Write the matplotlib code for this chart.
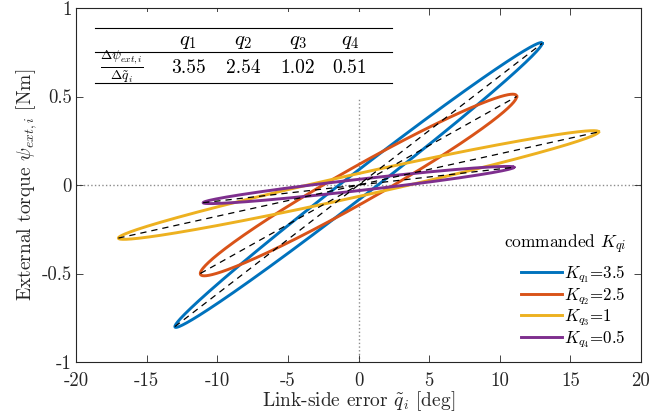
import numpy as np
import matplotlib
matplotlib.use('Agg')
import matplotlib.pyplot as plt
from matplotlib.patches import Rectangle

plt.rcParams['font.family'] = 'serif'
plt.rcParams['font.serif'] = ['cmr10']
plt.rcParams['mathtext.fontset'] = 'cm'
plt.rcParams['axes.unicode_minus'] = False
plt.rcParams['axes.formatter.use_mathtext'] = True

# loop data
kq_values = ['3.5', '2.5', '1', '0.5']
tip_x = [13.0, 11.2, 17.0, 11.0]      # deg, loop tip
tip_y = [0.80, 0.50, 0.30, 0.10]      # Nm, loop tip
opening = [0.085, 0.115, 0.065, 0.032]  # Nm, half opening at zero error
colors = ['#0072BD', '#D95319', '#EDB120', '#7E2F8E']

# table
joints = ['q_1', 'q_2', 'q_3', 'q_4']
slopes = ['3.55', '2.54', '1.02', '0.51']

xticks = [-20, -15, -10, -5, 0, 5, 10, 15, 20]
yticks = [-1, -0.5, 0, 0.5, 1]
yticklabels = ['-1', '-0.5', '0', '0.5', '1']
xticklabels = ['-20', '-15', '-10', '-5', '0', '5', '10', '15', '20']

fig = plt.figure(figsize=(6.7, 4.2), dpi=100)
ax = fig.add_axes([76/670, 58/420, 565/670, 354/420])

ax.axhline(0, color='0.55', ls=':', lw=1.0, zorder=1)
ax.axvline(0, color='0.55', ls=':', lw=1.0, zorder=1)

t = np.linspace(0, 2*np.pi, 600)
for i in range(4):
    x = tip_x[i]*np.cos(t)
    y = tip_y[i]*np.cos(t) + opening[i]*np.sin(t)
    ax.plot(x, y, color=colors[i], lw=2.1, zorder=3,
            label=r'$K_{q_%d}$=%s' % (i+1, kq_values[i]))
for i in range(4):
    ax.plot([-tip_x[i], tip_x[i]], [-tip_y[i], tip_y[i]], color='k',
            lw=0.9, dashes=(5, 4), zorder=4)

ax.set_xlim(-20, 20)
ax.set_ylim(-1, 1)
ax.set_xticks(xticks)
ax.set_xticklabels(xticklabels)
ax.set_yticks(yticks)
ax.set_yticklabels(yticklabels)
ax.tick_params(direction='in', top=True, right=True, length=5, width=0.6,
               labelsize=13.5, colors='0.15', pad=3)
ax.tick_params(axis='x', pad=7)
for s in ax.spines.values():
    s.set_linewidth(0.8)
    s.set_color('0.15')

ax.set_xlabel(r'Link-side error $\tilde{q}_i$ [deg]', fontsize=14,
              color='0.15', labelpad=0)
ax.set_ylabel(r'External torque $\psi_{ext,i}$ [Nm]', fontsize=14,
              color='0.15', labelpad=2)

leg = ax.legend(loc='lower right', bbox_to_anchor=(1.0, -0.01), frameon=False,
                fontsize=12.2, handlelength=2.4, handletextpad=0.15,
                labelspacing=0.02, title=r'commanded $K_{qi}$',
                title_fontsize=12.5)
leg._legend_box.align = 'right'
leg._legend_box.sep = 5

# table inset
def fx(px):
    return (px - 76) / 565

def fy(py):
    return (362 - py) / 354

ax.add_patch(Rectangle((fx(86), fy(98)), fx(400) - fx(86), fy(12) - fy(98),
                       transform=ax.transAxes, facecolor='white',
                       edgecolor='none', zorder=5))
for py in [28, 52, 83]:
    ax.plot([fx(95), fx(392)], [fy(py), fy(py)], transform=ax.transAxes,
            color='k', lw=0.8, zorder=6)
colx = [188, 243, 298, 350]
for j in range(4):
    ax.text(fx(colx[j]), fy(42), '$%s$' % joints[j], transform=ax.transAxes,
            ha='center', va='center', fontsize=15, zorder=7)
    ax.text(fx(colx[j]), fy(68), slopes[j], transform=ax.transAxes,
            ha='center', va='center', fontsize=14, zorder=7)
ax.text(fx(122), fy(67), r'$\frac{\Delta\psi_{ext,i}}{\Delta\tilde{q}_i}$',
        transform=ax.transAxes, ha='center', va='center', fontsize=14, zorder=7)

fig.savefig('out.png', dpi=100)
